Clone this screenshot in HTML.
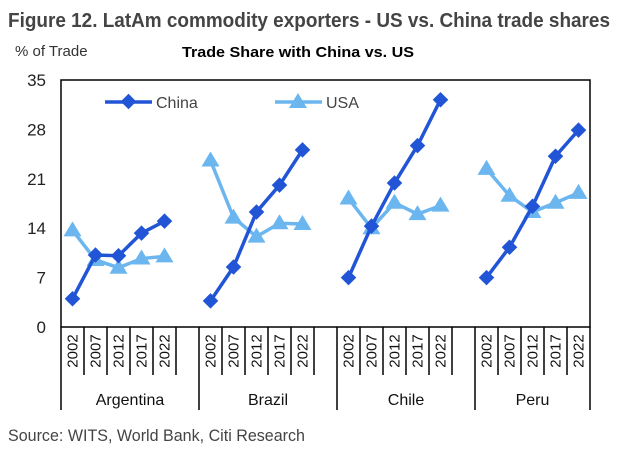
<!DOCTYPE html>
<html><head><meta charset="utf-8"><style>
body{margin:0;background:#fff;font-family:"Liberation Sans",sans-serif}
svg text{font-family:"Liberation Sans",sans-serif}
</style></head><body>
<svg width="620" height="445">
<text x="8" y="27" font-size="20" font-weight="bold" fill="#444" textLength="602" lengthAdjust="spacingAndGlyphs">Figure 12. LatAm commodity exporters - US vs. China trade shares</text>
<text x="15" y="56" font-size="15" fill="#333">% of Trade</text>
<text x="182" y="57" font-size="15" font-weight="bold" fill="#000" textLength="232" lengthAdjust="spacingAndGlyphs">Trade Share with China vs. US</text>
<g id="axes"></g>
<g id="marks"></g>
<g>
<line x1="105" y1="102" x2="152" y2="102" stroke="#2255d6" stroke-width="3.5"/>
<rect x="123" y="96" width="11" height="11" fill="#2255d6" transform="rotate(45 128.5 101.5)"/>
<text x="156" y="108" font-size="16" fill="#444">China</text>
<line x1="275" y1="102" x2="322" y2="102" stroke="#6cb6f0" stroke-width="3.5"/>
<polygon points="298,93 307,108 289,108" fill="#6cb6f0"/>
<text x="326" y="108" font-size="16" fill="#444">USA</text>
</g>
<text x="8" y="441" font-size="17" fill="#444" textLength="297" lengthAdjust="spacingAndGlyphs">Source: WITS, World Bank, Citi Research</text>
</svg>
<script>
const countries=["Argentina","Brazil","Chile","Peru"];
const years=["2002","2007","2012","2017","2022"];
const china=[[4.0,10.2,10.1,13.3,15.0],[3.7,8.5,16.3,20.1,25.1],[7.0,14.3,20.4,25.7,32.2],[7.0,11.3,17.1,24.2,27.9]];
const usa=[[13.7,9.5,8.4,9.7,10.0],[23.6,15.5,12.8,14.7,14.6],[18.2,14.0,17.6,16.0,17.2],[22.4,18.6,16.3,17.6,19.0]];
const yTicks=[0,7,14,21,28,35];
const NS="http://www.w3.org/2000/svg";
const L=61,R=590,T=80,B=327,slot=(R-L)/23;
const ys=v=>B-(v/35)*(B-T);
const xs=(g,i)=>L+(g*6+i+0.5)*slot;
function mk(tag,at,parent){const e=document.createElementNS(NS,tag);for(const k in at)e.setAttribute(k,at[k]);parent.appendChild(e);return e;}
const ax=document.getElementById('axes'),mg=document.getElementById('marks');
const frame=mk('rect',{x:L,y:T,width:R-L,height:B-T,fill:'none',stroke:'#000','stroke-width':1.5},ax);


yTicks.forEach(v=>{const t=mk('text',{x:L-15,y:ys(v)+6,'font-size':17,'text-anchor':'end',fill:'#222'},ax);t.textContent=v;

});
countries.forEach((c,g)=>{
 const gx=L+g*6*slot;
 mk('line',{x1:gx,y1:B,x2:gx,y2:410,stroke:'#000','stroke-width':1.5},ax);
 years.forEach((y,i)=>{
  const x1=L+(g*6+i+1)*slot;
  if(!(g==3&&i==4))mk('line',{x1:x1,y1:B,x2:x1,y2:375,stroke:'#000','stroke-width':1.5},ax);
  const cx=xs(g,i);
  const t=mk('text',{x:0,y:0,'font-size':15,'text-anchor':'middle',fill:'#111',transform:`translate(${cx+5},351) rotate(-90)`},ax);t.textContent=y;
  
  
 });
 const gw=(g==3?5:6)*slot;
 const ct=mk('text',{x:gx+(g==3?gw:5*slot)/2+(g==3?0:slot*0.5),y:405,'font-size':16,'text-anchor':'middle',fill:'#111'},ax);ct.textContent=c;
 
 
});
mk('line',{x1:R,y1:B,x2:R,y2:410,stroke:'#000','stroke-width':1.5},ax);
function series(data,color,shape,name){
 data.forEach((arr,g)=>{
  const pts=arr.map((v,i)=>xs(g,i)+','+ys(v)).join(' ');
  const pl=mk('polyline',{points:pts,fill:'none',stroke:color,'stroke-width':3.5},mg);
  
  
  arr.forEach((v,i)=>{
   const x=xs(g,i),y=ys(v);let m;
   if(shape=='d')m=mk('rect',{x:x-5.5,y:y-5.5,width:11,height:11,fill:color,transform:`rotate(45 ${x} ${y})`},mg);
   else m=mk('polygon',{points:`${x},${y-9} ${x+9},${y+6} ${x-9},${y+6}`,fill:color},mg);
   
   
  });
 });
}
series(usa,'#6cb6f0','t','usa');
series(china,'#2255d6','d','china');
</script>
</body></html>
